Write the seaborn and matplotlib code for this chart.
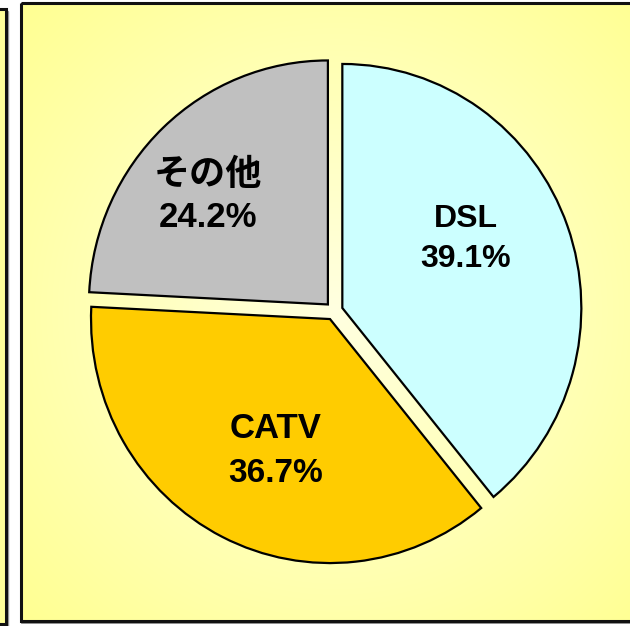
import numpy as np
import matplotlib.pyplot as plt
import matplotlib.patches as mpatches
import seaborn as sns

sns.set_theme(style="white")
plt.rcParams['font.family'] = ['Liberation Sans', 'Noto Sans CJK JP', 'DejaVu Sans']

# data
labels = ['DSL', 'CATV', 'その他']
shares = [39.1, 36.7, 24.2]
colors = ['#CCFFFF', '#FFCC00', '#C0C0C0']
explode = [0.037, 0.037, 0.037]
# label baselines (pie radius = 1): name line, value line
name_pos = [(0.552, 0.344), (-0.243, -0.520), (-0.527, 0.518)]
value_pos = [(0.552, 0.180), (-0.243, -0.701), (-0.527, 0.344)]
name_size = [23, 25, 26]
value_size = [23, 24, 25]

W, H = 630, 626
fig = plt.figure(figsize=(W / 100, H / 100), dpi=100)
fig.patch.set_facecolor('white')

# background panels (pixel coordinates)
bg = fig.add_axes([0, 0, 1, 1])
bg.set_xlim(0, W)
bg.set_ylim(H, 0)
bg.axis('off')

# left (cut) panel
bg.add_patch(mpatches.Rectangle((-20, 9), 26, 615, facecolor='#FFFF99',
                                edgecolor='#111111', lw=2.2, zorder=1))
bg.add_patch(mpatches.Rectangle((-20, 11), 28, 615, facecolor='none',
                                edgecolor='#999999', lw=1, zorder=0))

# main panel with radial gradient
x0, y0, x1, y1 = 21, 3, 640, 621
yy, xx = np.mgrid[0:H, 0:W]
d = np.hypot(xx - 335, yy - 311)
t = np.clip(d / 430, 0, 1)
c0 = np.array([1.0, 1.0, 0.88])
c1 = np.array([1.0, 1.0, 0.58])
img = c0[None, None, :] * (1 - t[..., None]) + c1[None, None, :] * t[..., None]
bg.add_patch(mpatches.Rectangle((x0 + 1, y0 + 1), x1 - x0, y1 - y0, facecolor='none',
                                edgecolor='#888888', lw=2, zorder=1))
im = bg.imshow(img, extent=(0, W, H, 0), zorder=2)
im.set_clip_path(mpatches.Rectangle((x0, y0), x1 - x0, y1 - y0, transform=bg.transData))
bg.add_patch(mpatches.Rectangle((x0, y0), x1 - x0, y1 - y0, facecolor='none',
                                edgecolor='#111111', lw=2.2, zorder=3))

# pie axes: center at (334, 311) px, radius 239 x 244 px
L = 1.2
cx, cy, rx, ry = 334, 311, 239, 244
aw, ah = 2 * L * rx, 2 * L * ry
ax = fig.add_axes([(cx - aw / 2) / W, (H - cy - ah / 2) / H, aw / W, ah / H])
ax.set_facecolor('none')
wedges, _ = ax.pie(shares, colors=colors, explode=explode, startangle=90,
                   counterclock=False,
                   wedgeprops=dict(edgecolor='black', linewidth=1.6))
ax.set_xlim(-L, L)
ax.set_ylim(-L, L)
ax.set_aspect('auto')
ax.axis('off')

for name, val, (nx, ny), (vx, vy), nfs, vfs in zip(labels, shares, name_pos, value_pos,
                                                   name_size, value_size):
    ax.text(nx, ny, name, ha='center', va='baseline', fontsize=nfs,
            fontweight='bold', color='black')
    ax.text(vx, vy, f'{val:.1f}%', ha='center', va='baseline', fontsize=vfs,
            fontweight='bold', color='black')

fig.savefig('out.png', dpi=100, facecolor='white')
